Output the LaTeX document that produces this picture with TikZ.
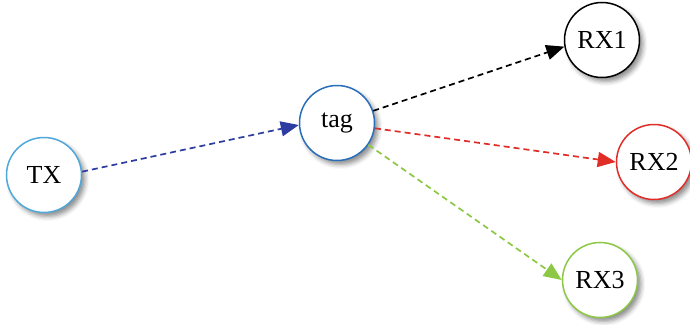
\documentclass[tikz,border=0pt]{standalone}
\usepackage{fontspec}
\setmainfont{Liberation Serif}
\usetikzlibrary{arrows.meta,shadows.blur}
\definecolor{txblue}{RGB}{80,168,218}
\definecolor{tagblue}{RGB}{40,110,185}
\definecolor{linkblue}{RGB}{45,60,160}
\definecolor{rxred}{RGB}{225,45,40}
\definecolor{rxgreen}{RGB}{140,200,70}
\tikzset{
  station/.style={circle, draw=#1, fill=white, line width=1.5pt,
    minimum size=75pt, inner sep=0pt, font=\fontsize{26}{28}\selectfont,
    blur shadow={shadow xshift=3.5pt, shadow yshift=-4pt,
      shadow blur radius=4.5pt, shadow opacity=45}},
  link/.style={draw=#1, line width=1.7pt, dash pattern=on 6pt off 4pt,
    -{Triangle[length=18pt,width=15pt,fill=#1]}},
}
\begin{document}
\begin{tikzpicture}[x=1pt,y=-1pt]
  \useasboundingbox (0,0) rectangle (690,324);
  \node[station=txblue]  (TX)  at (44,175)  {TX};
  \node[station=tagblue] (tag) at (337,123) {tag};
  \node[station=black]   (RX1) at (602,40)  {RX1};
  \node[station=rxred]   (RX2) at (654,162) {RX2};
  \node[station=rxgreen] (RX3) at (600,280) {RX3};
  \draw[link=linkblue] (TX.5) -- (tag.183);
  \draw[link=black]    (tag)  -- (RX1.190);
  \draw[link=rxred]    (tag)  -- (RX2.west);
  \draw[link=rxgreen]  (tag)  -- (RX3.west);
\end{tikzpicture}
\end{document}
